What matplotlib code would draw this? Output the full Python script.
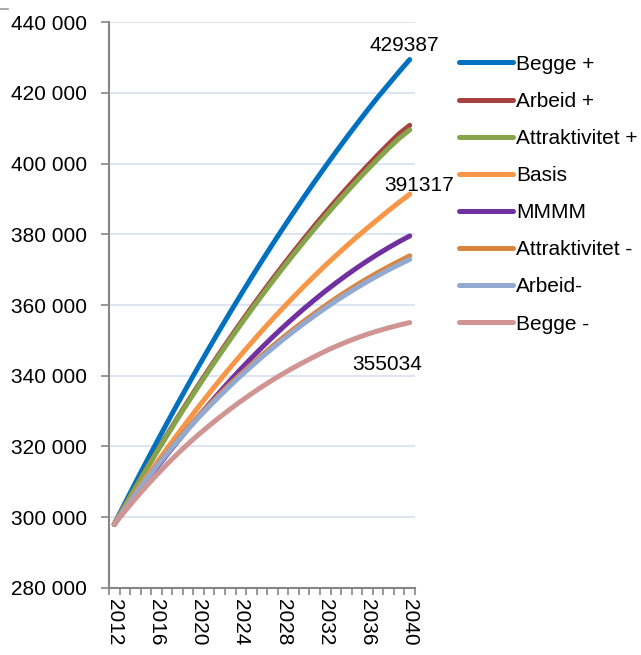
import matplotlib
matplotlib.use("Agg")
import matplotlib.pyplot as plt
from matplotlib.ticker import FuncFormatter, MultipleLocator
from matplotlib.lines import Line2D
import numpy as np

plt.rcParams['font.family'] = ['Liberation Sans', 'DejaVu Sans']

years = list(range(2012, 2041))

begge_pluss = [298000, 303900, 309710, 315430, 321070, 326610, 332070, 337430, 342710, 347900,
               353000, 358010, 362930, 367770, 372510, 377170, 381730, 386210, 390600, 394900,
               399110, 403230, 407270, 411210, 415070, 418830, 422400, 425950, 429387]
arbeid_pluss = [298000, 303250, 308400, 313470, 318450, 323330, 328130, 332850, 337480, 342000,
                346450, 350800, 355070, 359250, 363340, 367340, 371250, 375080, 378820, 382470,
                386030, 389500, 392880, 396170, 399370, 402480, 405500, 408430, 410800]
attr_pluss = [298000, 303200, 308310, 313330, 318270, 323110, 327870, 332530, 337110, 341600,
              346000, 350310, 354530, 358670, 362710, 366670, 370530, 374310, 378000, 381600,
              385110, 388530, 391870, 395110, 398270, 401330, 404310, 407100, 409500]
basis = [298000, 302450, 306820, 311100, 315300, 319420, 323450, 327400, 331270, 335050,
         338750, 342370, 345900, 349350, 352720, 356000, 359200, 362320, 365350, 368300,
         371170, 373950, 376650, 379270, 381800, 384250, 386700, 389050, 391317]
mmmm = [298000, 302100, 306120, 310060, 313920, 317700, 321400, 325020, 328560, 332020,
        335400, 338700, 341920, 345020, 348020, 350920, 353720, 356420, 359020, 361520,
        363920, 366220, 368420, 370520, 372520, 374420, 376220, 377920, 379520]
attr_minus = [298000, 302350, 306550, 310600, 314500, 318250, 321850, 325300, 328600, 331750,
              334800, 337750, 340500, 343180, 345800, 348340, 350800, 353180, 355470, 357680,
              359810, 361860, 363820, 365700, 367490, 369200, 370830, 372370, 373900]
arbeid_minus = [298000, 302300, 306450, 310450, 314300, 318000, 321550, 324950, 328200, 331300,
                334300, 337200, 340000, 342680, 345280, 347790, 350220, 352570, 354830, 357010,
                359110, 361120, 363050, 364900, 366660, 368340, 369940, 371450, 372880]
begge_minus = [298000, 301700, 305250, 308650, 311900, 315000, 317950, 320750, 323400, 325900,
               328300, 330600, 332800, 334900, 336900, 338800, 340600, 342300, 343900, 345450,
               346950, 348300, 349550, 350700, 351750, 352700, 353550, 354330, 355034]

series = [
    ('Begge +', begge_pluss, '#0070C0'),
    ('Arbeid +', arbeid_pluss, '#A8423F'),
    ('Attraktivitet +', attr_pluss, '#86A44A'),
    ('Basis', basis, '#F79646'),
    ('MMMM', mmmm, '#7030A0'),
    ('Attraktivitet -', attr_minus, '#DB843D'),
    ('Arbeid-', arbeid_minus, '#93A9CF'),
    ('Begge -', begge_minus, '#D09593'),
]

fs = 15

fig = plt.figure(figsize=(6.41, 6.55), dpi=100)
ax = fig.add_axes([0.170, 0.1023, 0.4774, 0.8641])

for name, vals, col in series:
    ax.plot(years, vals, color=col, lw=3.6, label=name, solid_capstyle='round')

# data labels on the last point
ax.annotate(f'{begge_pluss[-1]}', (years[-1], begge_pluss[-1]), textcoords='offset points',
            xytext=(-4, 10), ha='center', va='center', fontsize=fs)
ax.annotate(f'{basis[-1]}', (years[-1], basis[-1]), textcoords='offset points',
            xytext=(7, 6), ha='center', va='center', fontsize=fs)
ax.annotate(f'{begge_minus[-1]}', (years[-1], begge_minus[-1]), textcoords='offset points',
            xytext=(-16, -30), ha='center', va='center', fontsize=fs)

ax.set_ylim(280000, 440000)
ax.set_xlim(2011.5, 2040.5)
ax.yaxis.set_major_locator(MultipleLocator(20000))
ax.yaxis.set_major_formatter(FuncFormatter(lambda v, p: f'{v:,.0f}'.replace(',', ' ')))
ax.grid(axis='y', color='#DCE6F2', lw=1.4)
ax.set_axisbelow(True)

ax.set_xticks(range(2012, 2041, 4))
ax.set_xticks(np.arange(2011.5, 2041, 1), minor=True)
ax.tick_params(axis='x', which='major', length=0, pad=8, labelrotation=270, labelsize=fs)
ax.tick_params(axis='x', which='minor', length=5, width=1.2, color='#868686')
ax.tick_params(axis='y', length=6, width=1.2, color='#868686', pad=10, labelsize=fs)
for lab in ax.get_xticklabels():
    lab.set_va('top')
    lab.set_ha('center')

for s in ['top', 'right']:
    ax.spines[s].set_visible(False)
for s in ['left', 'bottom']:
    ax.spines[s].set_color('#868686')
    ax.spines[s].set_linewidth(1.5)

ax.legend(loc='upper left', bbox_to_anchor=(1.115, 0.957), frameon=False, fontsize=fs,
          handlelength=2.6, handletextpad=0.15, labelspacing=0.87, borderaxespad=0)

# small corner mark of the chart frame (top left)
fig.add_artist(Line2D([0, 0.013], [0.986, 0.986], color='#9A9A9A', lw=1.2))

fig.savefig('out.png', dpi=100)
